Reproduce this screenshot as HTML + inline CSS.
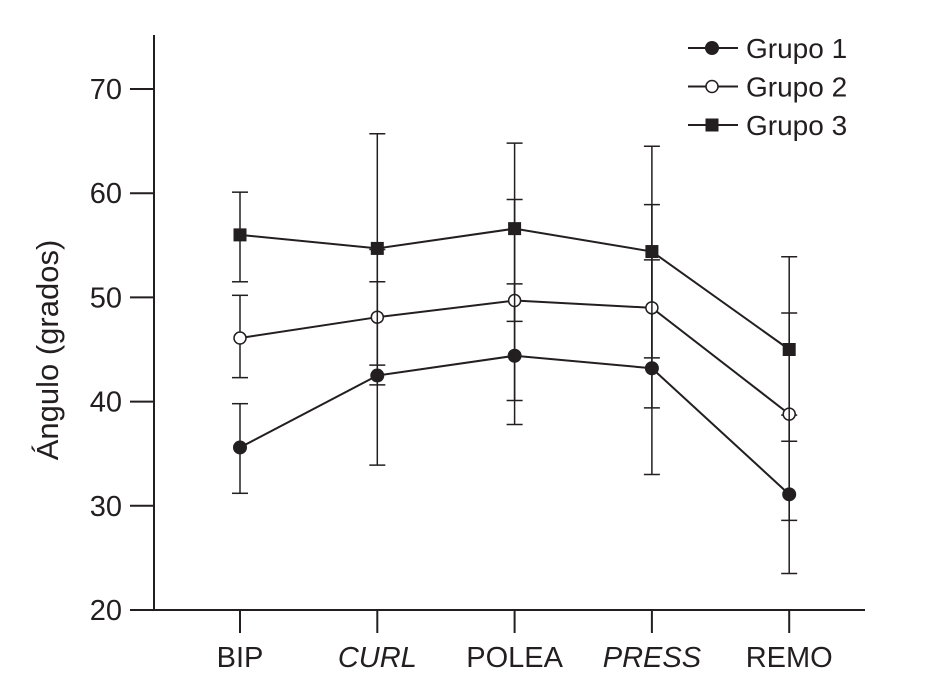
<!DOCTYPE html>
<html><head><meta charset="utf-8"><style>
body{margin:0;background:#fff;}
svg text{font-family:"Liberation Sans",sans-serif;fill:#231f20;}
</style></head><body>
<svg id="chart" width="929" height="691" viewBox="0 0 929 691" xmlns="http://www.w3.org/2000/svg">
<g id="axes"></g>
<g id="series"></g>
<text transform="translate(58,350) rotate(-90)" text-anchor="middle" font-size="31">Ángulo (grados)</text>
<g id="legend"></g>
</svg>
<script>
const categories=["BIP","CURL","POLEA","PRESS","REMO"];
const italicCats=[false,true,false,true,false];
const yTicks=[20,30,40,50,60,70];
const g1Mean=[35.6,42.5,44.4,43.2,31.1];
const g1Low=[31.2,33.9,37.8,33.0,23.5];
const g1High=[39.8,51.5,51.3,53.6,38.7];
const g2Mean=[46.1,48.1,49.7,49.0,38.8];
const g2Low=[42.3,41.6,40.1,39.4,28.6];
const g2High=[50.2,54.6,59.4,58.9,48.5];
const g3Mean=[56.0,54.7,56.6,54.4,45.0];
const g3Low=[51.5,43.5,47.7,44.2,36.2];
const g3High=[60.1,65.7,64.8,64.5,53.9];
const seriesNames=["Grupo 1","Grupo 2","Grupo 3"];

const NS="http://www.w3.org/2000/svg";
const X0=154,Y0=610;
function yS(v){return 610-(v-20)*10.42;}
function xS(i){return 240+i*137.3;}
function mk(tag,attrs,parent){const e=document.createElementNS(NS,tag);for(const k in attrs)e.setAttribute(k,attrs[k]);parent.appendChild(e);return e;}
const axes=document.getElementById('axes');
let a=mk('line',{x1:X0,y1:35,x2:X0,y2:Y0,stroke:'#231f20','stroke-width':2},axes);


a=mk('line',{x1:X0,y1:Y0,x2:865,y2:Y0,stroke:'#231f20','stroke-width':2},axes);


yTicks.forEach(v=>{
  const t=mk('line',{x1:130,y1:yS(v),x2:X0,y2:yS(v),stroke:'#231f20','stroke-width':2},axes);
  
  
  const l=mk('text',{x:122,y:yS(v)+10,'text-anchor':'end','font-size':29},axes);
  l.textContent=v;
  
  
});
categories.forEach((c,i)=>{
  const t=mk('line',{x1:xS(i),y1:Y0,x2:xS(i),y2:633,stroke:'#231f20','stroke-width':2},axes);
  
  
  const l=mk('text',{x:xS(i),y:667,'text-anchor':'middle','font-size':29},axes);
  if(italicCats[i])l.setAttribute('font-style','italic');
  l.textContent=c;
  
  
});
const ser=document.getElementById('series');
function marker(kind,x,y,parent){
  let m;
  if(kind===0)m=mk('circle',{cx:x,cy:y,r:7,fill:'#231f20'},parent);
  else if(kind===1)m=mk('circle',{cx:x,cy:y,r:6,fill:'#fff',stroke:'#231f20','stroke-width':1.5},parent);
  else m=mk('rect',{x:x-6.5,y:y-6.5,width:13,height:13,fill:'#231f20'},parent);
  return m;
}
const all=[[g1Mean,g1Low,g1High],[g2Mean,g2Low,g2High],[g3Mean,g3Low,g3High]];
all.forEach((s,k)=>{
  const [m,lo,hi]=s;
  const g=mk('g',{},ser);
  
  
  m.forEach((v,i)=>{
    const e=mk('line',{x1:xS(i),y1:yS(lo[i]),x2:xS(i),y2:yS(hi[i]),stroke:'#231f20','stroke-width':1.5},g);
    
    
    [lo[i],hi[i]].forEach(cv=>{
      const cp=mk('line',{x1:xS(i)-8,y1:yS(cv),x2:xS(i)+8,y2:yS(cv),stroke:'#231f20','stroke-width':1.5},g);
      
      
    });
  });
  const p=mk('polyline',{points:m.map((v,i)=>xS(i)+','+yS(v)).join(' '),fill:'none',stroke:'#231f20','stroke-width':2},g);
  
  
  m.forEach((v,i)=>{
    const mm=marker(k,xS(i),yS(v),g);
    
    
  });
});
const leg=document.getElementById('legend');
seriesNames.forEach((n,k)=>{
  const y=48+k*38.5;
  const g=mk('g',{},leg);
  
  
  mk('line',{x1:688,y1:y,x2:738,y2:y,stroke:'#231f20','stroke-width':2},g);
  marker(k,712,y,g);
  const t=mk('text',{x:746,y:y+10,'font-size':28},g);
  t.textContent=n;
});
</script>
</body></html>
